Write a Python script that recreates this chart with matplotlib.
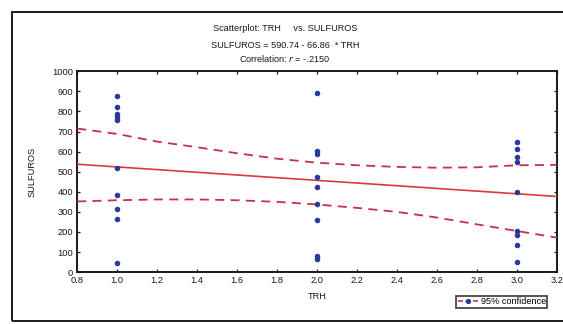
import matplotlib
matplotlib.use("Agg")
import matplotlib.pyplot as plt
from matplotlib.lines import Line2D
from matplotlib.patches import Rectangle

# data
TRH_1 = [1.0] * 10
SULF_1 = [879, 821, 785, 772, 756, 521, 382, 316, 266, 45]
TRH_2 = [2.0] * 9
SULF_2 = [890, 603, 590, 475, 425, 341, 262, 80, 65]
TRH_3 = [3.0] * 9
SULF_3 = [650, 614, 574, 549, 397, 206, 185, 136, 50]

INTERCEPT = 590.74
SLOPE = -66.86

BAND_X = [0.8, 1.0, 1.2, 1.4, 1.6, 1.8, 2.0, 2.2, 2.4, 2.6, 2.8, 3.0, 3.2]
BAND_UPPER = [715, 688, 650, 622, 592, 565, 545, 532, 524, 520, 522, 532, 534]
BAND_LOWER = [352, 358, 362, 362, 358, 350, 337, 320, 300, 272, 238, 205, 172]

X_TICKS = [0.8, 1.0, 1.2, 1.4, 1.6, 1.8, 2.0, 2.2, 2.4, 2.6, 2.8, 3.0, 3.2]
Y_TICKS = list(range(0, 1001, 100))

DOT = "#2b3a9a"
RED = "#d83a3e"
DASH = "#c23248"
INK = "#1a1a1a"

plt.rcParams["font.family"] = ["Liberation Sans", "DejaVu Sans"]

fig = plt.figure(figsize=(5.63, 3.24), dpi=100)
ax = fig.add_axes([0.137, 0.160, 0.852, 0.620])

xs = TRH_1 + TRH_2 + TRH_3
ys = SULF_1 + SULF_2 + SULF_3
ax.scatter(xs, ys, s=16, color=DOT, zorder=4, linewidths=0)

line_x = [X_TICKS[0], X_TICKS[-1]]
line_y = [INTERCEPT + SLOPE * v for v in line_x]
ax.plot(line_x, line_y, color=RED, lw=1.2, zorder=3)

ax.plot(BAND_X, BAND_UPPER, color=DASH, lw=1.3, ls=(0, (5, 3.5)), zorder=3)
ax.plot(BAND_X, BAND_LOWER, color=DASH, lw=1.3, ls=(0, (5, 3.5)), zorder=3)

ax.set_xlim(0.8, 3.2)
ax.set_ylim(0, 1000)
ax.set_xticks(X_TICKS)
ax.set_xticklabels([f"{v:.1f}" for v in X_TICKS])
ax.set_yticks(Y_TICKS)
ax.tick_params(direction="in", top=True, right=True, length=2.5, width=0.9,
               labelsize=6.7, colors=INK, pad=3)
for sp in ax.spines.values():
    sp.set_linewidth(1.4)
    sp.set_color(INK)

ax.set_xlabel("TRH", fontsize=6.7, color=INK, labelpad=5)
ax.set_ylabel("SULFUROS", fontsize=6.7, color=INK, labelpad=11)

fig.text(0.506, 0.913, "Scatterplot: TRH     vs. SULFUROS", ha="center",
         va="center", fontsize=6.6, color=INK)
fig.text(0.506, 0.861, "SULFUROS = 590.74 - 66.86  * TRH", ha="center",
         va="center", fontsize=6.6, color=INK)
fig.text(0.506, 0.820, r"Correlation: $r$ = -.2150", ha="center",
         va="center", fontsize=6.6, color=INK)

handle = Line2D([0], [0], color=DASH, lw=1.2, ls=(0, (3, 1.5)),
                marker="o", markersize=2.8, markerfacecolor=DOT,
                markeredgecolor=DOT, markevery=[1])
leg = fig.legend([handle], ["95% confidence"], loc="lower right",
                 bbox_to_anchor=(0.972, 0.05), fontsize=6.6, frameon=True,
                 fancybox=False, handlelength=2.2, handletextpad=0.3,
                 borderpad=0.15, borderaxespad=0)
leg.get_frame().set_edgecolor(INK)
leg.get_frame().set_linewidth(1.3)

# scanned page frame
fig.patches.append(Rectangle((0.021, 0.010), 1.2, 0.952, transform=fig.transFigure,
                             fill=False, edgecolor=INK, lw=1.4, zorder=0))

fig.savefig("out.png", dpi=100)
